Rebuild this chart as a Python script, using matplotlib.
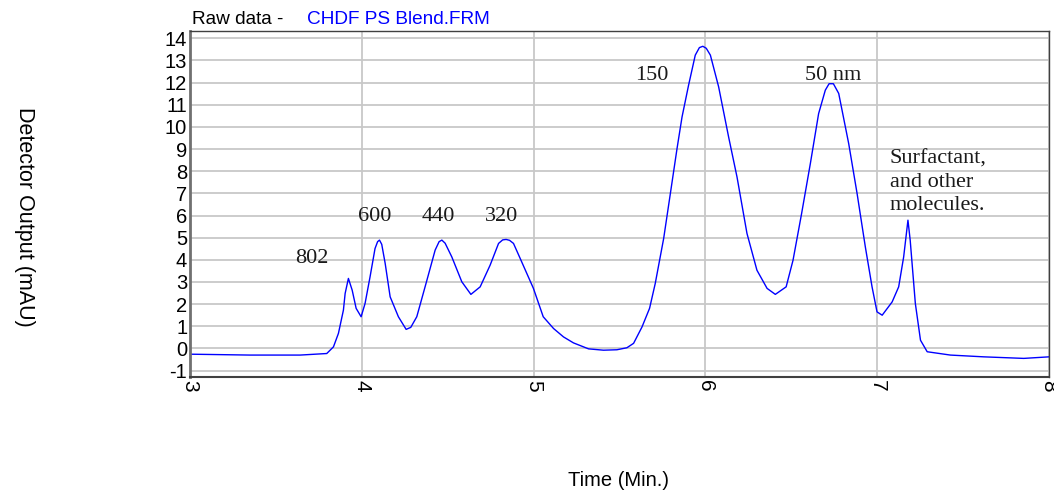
import matplotlib
matplotlib.use("Agg")
import matplotlib.pyplot as plt

# ---- data ----
time_min = [3.000, 3.349, 3.641, 3.796, 3.835, 3.864, 3.893, 3.903, 3.922, 3.944,
            3.967, 3.996, 4.019, 4.048, 4.077, 4.092, 4.103, 4.116, 4.136, 4.165,
            4.213, 4.258, 4.285, 4.320, 4.379, 4.427, 4.450, 4.466, 4.485, 4.524,
            4.582, 4.635, 4.689, 4.747, 4.796, 4.820, 4.840, 4.860, 4.883, 4.922,
            4.999, 5.056, 5.116, 5.174, 5.232, 5.320, 5.407, 5.485, 5.543, 5.582,
            5.631, 5.675, 5.708, 5.757, 5.796, 5.835, 5.864, 5.902, 5.941, 5.965,
            5.985, 6.005, 6.029, 6.077, 6.135, 6.184, 6.242, 6.300, 6.359, 6.407,
            6.470, 6.510, 6.560, 6.611, 6.659, 6.698, 6.720, 6.745, 6.776, 6.834,
            6.883, 6.931, 6.970, 6.999, 7.029, 7.087, 7.125, 7.154, 7.179, 7.192,
            7.222, 7.252, 7.291, 7.426, 7.620, 7.853, 8.000]
signal_mau = [-0.26, -0.30, -0.30, -0.23, 0.07, 0.68, 1.73, 2.48, 3.16, 2.63,
              1.81, 1.43, 2.03, 3.23, 4.51, 4.82, 4.89, 4.70, 3.84, 2.33,
              1.43, 0.86, 0.95, 1.43, 3.08, 4.44, 4.82, 4.89, 4.75, 4.13,
              3.01, 2.44, 2.78, 3.76, 4.74, 4.90, 4.92, 4.88, 4.74, 4.06,
              2.71, 1.43, 0.90, 0.52, 0.25, -0.02, -0.08, -0.06, 0.03, 0.23,
              0.97, 1.81, 2.93, 4.96, 6.99, 9.03, 10.45, 11.88, 13.24, 13.58,
              13.64, 13.55, 13.24, 11.81, 9.55, 7.74, 5.19, 3.53, 2.71, 2.44,
              2.78, 3.98, 6.09, 8.35, 10.60, 11.66, 11.95, 11.95, 11.51, 9.25,
              6.99, 4.58, 2.78, 1.65, 1.50, 2.10, 2.78, 4.13, 5.79, 4.89,
              2.03, 0.37, -0.15, -0.30, -0.38, -0.45, -0.38]

x_ticks = [3, 4, 5, 6, 7, 8]
y_ticks = list(range(-1, 15))

peak_labels = ["802", "600", "440", "320", "150", "50 nm", "Surfactant,\nand other\nmolecules."]
peak_label_x = [3.61, 3.98, 4.35, 4.718, 5.592, 6.582, 7.073]
peak_label_y = [4.07, 5.94, 5.94, 5.94, 12.33, 12.33, 7.48]

SANS = ["Liberation Sans", "DejaVu Sans"]
SERIF = ["Liberation Serif", "DejaVu Serif"]

fig = plt.figure(figsize=(10.54, 4.90), dpi=100)
ax = fig.add_axes([190 / 1054, 1 - 377 / 490, (1049 - 190) / 1054, (377 - 31) / 490])

ax.plot(time_min, signal_mau, color="#0000ff", lw=1.0)

ax.set_xlim(3, 8)
ax.set_ylim(-1.29, 14.33)
ax.set_xticks(x_ticks)
ax.set_yticks(y_ticks)
ax.set_xticklabels([str(v) for v in x_ticks], rotation=-90, family=SANS, fontsize=15)
ax.set_yticklabels([str(v) for v in y_ticks], family=SANS, fontsize=14.5)
ax.tick_params(axis="both", length=0)
ax.tick_params(axis="y", pad=2)
ax.tick_params(axis="x", pad=2)

ax.grid(True, color="#c8c8c8", lw=1.3)
ax.set_axisbelow(True)
for side, sp in ax.spines.items():
    sp.set_color("#404040")
    sp.set_linewidth(1.0)
ax.spines["left"].set_linewidth(2.0)
ax.spines["left"].set_color("#707070")
ax.spines["bottom"].set_linewidth(1.5)

for lab, lx, ly in zip(peak_labels, peak_label_x, peak_label_y):
    ax.text(lx, ly, lab, ha="left", va="center", family=SERIF, fontsize=16,
            color="#1a1a1a", linespacing=1.3)

fig.text(192 / 1054, 1 - 20 / 490, "Raw data -", ha="left", va="center",
         family=SANS, fontsize=13.7, color="black")
fig.text(307 / 1054, 1 - 20 / 490, "CHDF PS Blend.FRM", ha="left", va="center",
         family=SANS, fontsize=13.7, color="#0000ff")

fig.text(24 / 1054, 1 - 217 / 490, "Detector Output (mAU)", rotation=-90,
         ha="center", va="center", family=SANS, fontsize=15.5, color="black")
fig.text(618 / 1054, 1 - 480 / 490, "Time (Min.)", ha="center", va="center",
         family=SANS, fontsize=14.5, color="black")

fig.savefig("out.png", dpi=100)
